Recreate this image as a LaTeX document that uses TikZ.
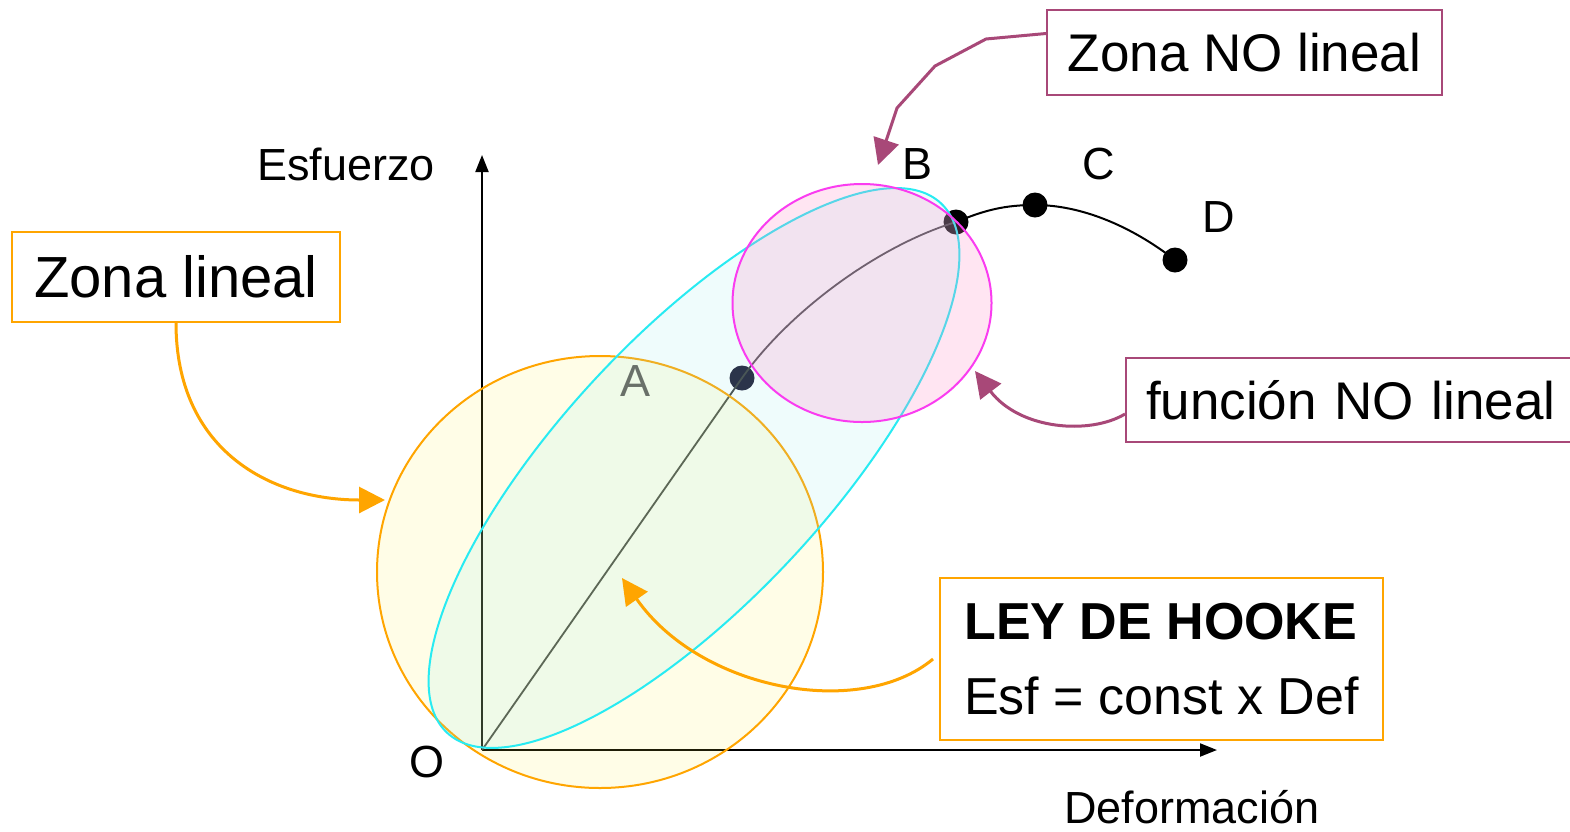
\documentclass[tikz,border=0pt]{standalone}
\usepackage{fontspec}
\setmainfont{Liberation Sans}
\usetikzlibrary{arrows.meta,calc}
\definecolor{orangeC}{RGB}{255,165,0}
\definecolor{mauve}{RGB}{168,72,120}
\definecolor{cyanS}{RGB}{40,235,242}
\definecolor{magS}{RGB}{250,60,240}
\definecolor{yelF}{RGB}{255,240,60}
\definecolor{cyanF}{RGB}{150,235,240}
\definecolor{pinkF}{RGB}{255,140,200}
\definecolor{grayA}{RGB}{105,112,105}
\definecolor{lineG}{RGB}{60,60,60}
\definecolor{dotA}{RGB}{25,20,45}
\begin{document}
\begin{tikzpicture}[x=1pt,y=-1pt,
  lbl/.style={font=\fontsize{45}{54}\selectfont, inner sep=0pt, anchor=base west},
  dotn/.style={circle, fill=black, inner sep=0pt, minimum size=25pt},
  obox/.style={draw=orangeC, line width=2pt, fill=white},
  mbox/.style={draw=mauve, line width=2pt, fill=white},
  oarr/.style={draw=orangeC, line width=3pt, -{Triangle[length=26pt,width=26pt]}},
  marr/.style={draw=mauve, line width=3pt, -{Triangle[length=26pt,width=26pt]}},
  axis/.style={draw=black, line width=2pt, -{Triangle[length=17pt,width=13pt]}},
]
\fill[white] (0,0) rectangle (1570,831);
\useasboundingbox (0,0) rectangle (1570,831);

% axes
\coordinate (O) at (482,750);
\coordinate (ytop) at (482,155);
\coordinate (xend) at (1217,750);
\draw[axis] (O) -- (ytop);
\draw[axis] (O) -- (xend);

% points and curve
\node[dotn, fill=dotA] (A) at (742,378) {};
\node[dotn] (B) at (956,222) {};
\node[dotn] (C) at (1035,205) {};
\node[dotn] (D) at (1175,260) {};
\draw[lineG, line width=1.8pt] (O) -- (A.center) .. controls (790,310) and (880,245) .. (B.center);
\draw[black, line width=2pt] (B.center) .. controls (985,210) and (1005,205) .. (C.center)
  .. controls (1080,205) and (1130,225) .. (D.center);

% zones
\filldraw[fill=yelF, fill opacity=0.12, draw=orangeC, line width=2pt]
  (600,572) ellipse [x radius=223, y radius=216];
\filldraw[fill=cyanF, fill opacity=0.15, draw=cyanS, line width=2pt, rotate around={47:(694,468)}]
  (694,468) ellipse [x radius=362, y radius=133];
\filldraw[fill=pinkF, fill opacity=0.22, draw=magS, line width=2pt]
  (862,303) ellipse [x radius=129.5, y radius=119];

% labels
\node[lbl] (lE) at (257,180) {Esfuerzo};
\node[lbl] (lDef) at (1064,823) {Deformación};
\node[lbl] (lO) at (409,777) {O};
\node[lbl, text=grayA] (lA) at (620,396) {A};
\node[lbl] (lB) at (902,179) {B};
\node[lbl] (lC) at (1082,179) {C};
\node[lbl] (lD) at (1202,232) {D};

% boxes
\node[obox, minimum width=328pt, minimum height=90pt, inner sep=0pt,
  font=\fontsize{58}{62}\selectfont] (zl) at (176,277) {Zona lineal};
\node[mbox, minimum width=395pt, minimum height=85pt, inner sep=0pt,
  font=\fontsize{53}{60}\selectfont] (znl) at (1244.5,52.5) {Zona NO lineal};
\node[mbox, anchor=north west, minimum height=84pt, text width=440pt, inner xsep=20pt,
  inner ysep=0pt, align=left, font=\fontsize{53}{60}\selectfont] (fnl) at (1125,357) {función NO lineal};
\node[obox, minimum width=443pt, minimum height=162pt, inner sep=0pt, align=left,
  font=\fontsize{52}{75}\selectfont] (hk) at (1161.5,659) {\textbf{LEY DE HOOKE}\\Esf = const x Def};

% connectors
\coordinate (zlT) at (385,500);
\draw[oarr] (zl.south) .. controls (176,450) and (270,500) .. (zlT);
\coordinate (hkT) at (622,578);
\draw[oarr] ([xshift=-6pt]hk.west) .. controls (860,720) and (700,690) .. (hkT);
\coordinate (fnlT) at (975,371);
\draw[marr] ([yshift=-14pt]fnl.west) .. controls (1090,435) and (1020,430) .. (fnlT);
\coordinate (znlT) at (878,165);
\draw[marr] ([yshift=19pt]znl.west) -- (986,39) -- (935,66) -- (897,108) -- (znlT);
\end{tikzpicture}
\end{document}
